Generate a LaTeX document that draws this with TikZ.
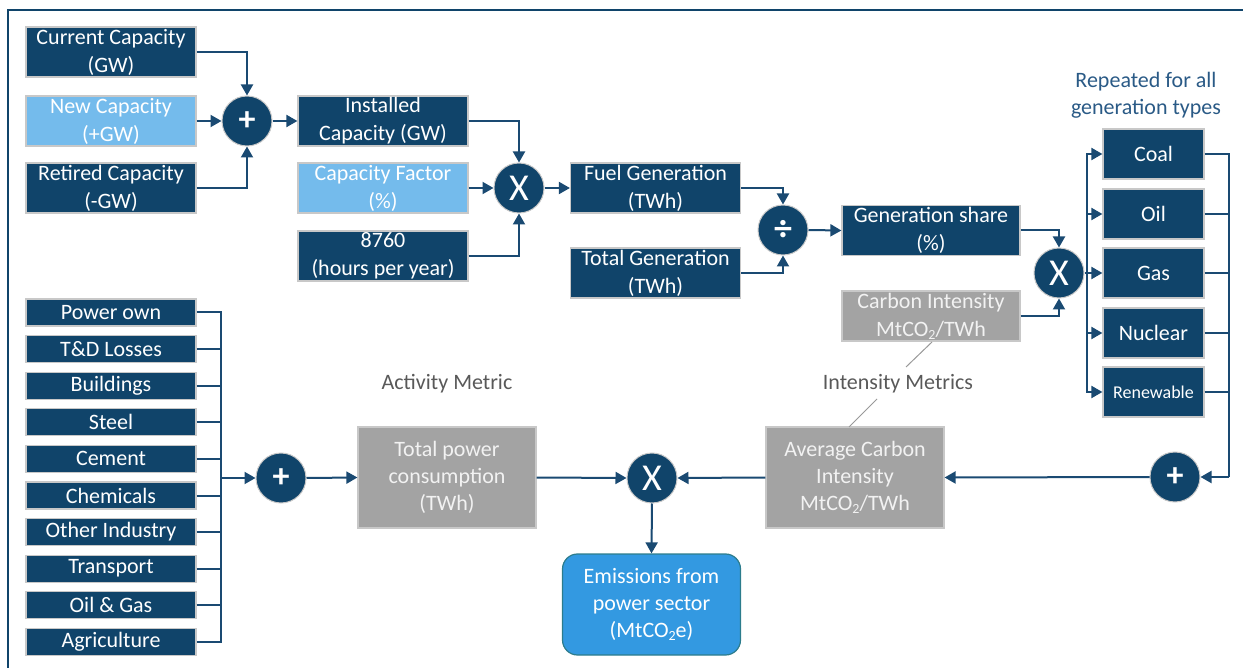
\documentclass[tikz,border=0pt]{standalone}
\usepackage{fontspec}
\setmainfont{Carlito}
\usetikzlibrary{arrows.meta}
\definecolor{dblue}{HTML}{10446A}
\definecolor{lblue}{HTML}{74BBEC}
\definecolor{gbox}{HTML}{A3A3A3}
\definecolor{ebox}{HTML}{3399E1}
\definecolor{eborder}{HTML}{2C7C8C}
\definecolor{bord}{HTML}{C8C8C8}
\definecolor{arrc}{HTML}{1A4A72}
\definecolor{lbltext}{HTML}{595959}
\definecolor{rtext}{HTML}{2A5A86}
\newcommand{\subtwo}{\raisebox{-0.3ex}{\fontsize{14}{14}\selectfont 2}}
\tikzset{
  base/.style={inner sep=0pt, align=center, text=white, font=\fontsize{22}{28}\selectfont, draw=bord, line width=1.2pt},
  dbox/.style={base, fill=dblue},
  lbox/.style={base, fill=lblue},
  gbx/.style={base, fill=gbox, text=white!95!black},
  big/.style={dbox, minimum width=170, minimum height=50},
  lst/.style={dbox, minimum width=170, minimum height=27},
  rbox/.style={dbox, minimum width=101, minimum height=50},
  op/.style={circle, fill=dblue, draw=bord, line width=1pt, minimum size=50, inner sep=0pt, text=white},
  arr/.style={draw=arrc, line width=2pt, -{Triangle[length=11pt,width=12pt]}},
  ln/.style={draw=arrc, line width=2pt},
  lbl/.style={inner sep=0pt, align=center, font=\fontsize{22}{27}\selectfont, text=lbltext},
  leader/.style={draw=gray!80, line width=1pt},
}
\begin{document}
\begin{tikzpicture}[x=1pt,y=-1pt]
\useasboundingbox (0,0) rectangle (1243,668);
\draw[dblue, line width=1.5pt] (8,668) -- (8,10) -- (1243,10);

% top-left
\node[big] (cur) at (111,52) {Current Capacity\\(GW)};
\node[big, lbox] (new) at (111,121) {New Capacity\\(+GW)};
\node[big] (ret) at (111,188) {Retired Capacity\\(-GW)};
\node[op] (p1) at (247,121) {\fontsize{34}{34}\selectfont\bfseries +};
\node[big] (inst) at (383,121) {Installed\\Capacity (GW)};
\node[big, lbox] (cf) at (383,188) {Capacity Factor\\(\%)};
\node[big] (hrs) at (383,256) {8760\\(hours per year)};
\node[op] (x1) at (519,188) {\fontsize{38}{38}\selectfont X};
\node[big] (fuel) at (655.5,188) {Fuel Generation\\(TWh)};
\node[big] (tot) at (655.5,273) {Total Generation\\(TWh)};
\node[op] (dv) at (783,230) {\fontsize{36}{36}\selectfont\bfseries ÷};
\node[big, minimum width=178] (share) at (931,230.5) {Generation share\\(\%)};
\node[big, gbx, minimum width=178] (ci) at (931,316) {Carbon Intensity\\MtCO\subtwo/TWh};
\node[op] (x2) at (1059,273) {\fontsize{38}{38}\selectfont X};

\node[lbl, text=rtext] (rep) at (1146,95) {Repeated for all\\generation types};
\node[rbox] (coal) at (1153.5,154) {Coal};
\node[rbox] (oil) at (1153.5,214) {Oil};
\node[rbox] (gas) at (1153.5,273) {Gas};
\node[rbox] (nuc) at (1153.5,333) {Nuclear};
\node[rbox, font=\fontsize{18}{22}\selectfont] (ren) at (1153.5,392) {Renewable};
\node[op] (p2) at (1175,477) {\fontsize{34}{34}\selectfont\bfseries +};

% bottom list
\node[lst] (l1) at (111,312.5) {Power own};
\node[lst] (l2) at (111,349.1) {T\&D Losses};
\node[lst] (l3) at (111,385.7) {Buildings};
\node[lst] (l4) at (111,422.3) {Steel};
\node[lst] (l5) at (111,458.9) {Cement};
\node[lst] (l6) at (111,495.5) {Chemicals};
\node[lst] (l7) at (111,532.1) {Other Industry};
\node[lst] (l8) at (111,568.7) {Transport};
\node[lst] (l9) at (111,605.3) {Oil \& Gas};
\node[lst] (l10) at (111,641.9) {Agriculture};
\node[op] (p3) at (281,478) {\fontsize{34}{34}\selectfont\bfseries +};

\node[gbx, minimum width=178, minimum height=101, font=\fontsize{22}{27}\selectfont] (tpc) at (447,477.5) {Total power\\consumption\\(TWh)};
\node[op] (x3) at (652,478) {\fontsize{38}{38}\selectfont X};
\node[gbx, minimum width=178, minimum height=101, font=\fontsize{22}{27}\selectfont] (avg) at (855,477.5) {Average Carbon\\Intensity\\MtCO\subtwo/TWh};
\node[base, fill=ebox, draw=eborder, rounded corners=15pt, minimum width=178, minimum height=101, font=\fontsize{22}{27}\selectfont] (em) at (651.5,604.5) {Emissions from\\power sector\\(MtCO\subtwo e)};

\node[lbl] (act) at (447,384) {Activity Metric};
\node[lbl] (intm) at (898,384) {Intensity Metrics};

% leader lines
\coordinate (la1) at (932,342);
\coordinate (la2) at (906,367);
\coordinate (lb1) at (877,399);
\coordinate (lb2) at (849,427);
\draw[leader] (la1) -- (la2);
\draw[leader] (lb1) -- (lb2);

% arrows top
\draw[arr] (cur.east) -| (p1.north);
\draw[arr] (new.east) -- (p1.west);
\draw[arr] (ret.east) -| (p1.south);
\draw[arr] (p1.east) -- (inst.west);
\draw[arr] (inst.east) -| (x1.north);
\draw[arr] (cf.east) -- (x1.west);
\draw[arr] (hrs.east) -| (x1.south);
\draw[arr] (x1.east) -- (fuel.west);
\draw[arr] (fuel.east) -| (dv.north);
\draw[arr] (tot.east) -| (dv.south);
\draw[arr] (dv.east) -- (share.west);
\draw[arr] (share.east) -| (x2.north);
\draw[arr] (ci.east) -| (x2.south);

% generation types
\coordinate (busL) at (1087,273);
\draw[ln] (x2.east) -- (busL);
\foreach \n in {coal,oil,gas,nuc,ren} {
  \draw[arr] (busL) |- (\n.west);
}
\coordinate (busR) at (1229,477);
\foreach \n in {coal,oil,gas,nuc,ren} {
  \draw[ln] (\n.east) -| (busR);
}
\draw[arr] (busR) -- (p2.east);
\draw[arr] (p2.west) -- (avg.east);
\draw[arr] (avg.west) -- (x3.east);
\draw[arr] (tpc.east) -- (x3.west);
\draw[arr] (x3.south) -- (em.north);

% list bus
\coordinate (busB) at (221,478);
\foreach \n in {l1,l2,l3,l4,l5,l6,l7,l8,l9,l10} {
  \draw[ln] (\n.east) -| (busB);
}
\draw[arr] (busB) -- (p3.west);
\draw[arr] (p3.east) -- (tpc.west);
\end{tikzpicture}
\end{document}
